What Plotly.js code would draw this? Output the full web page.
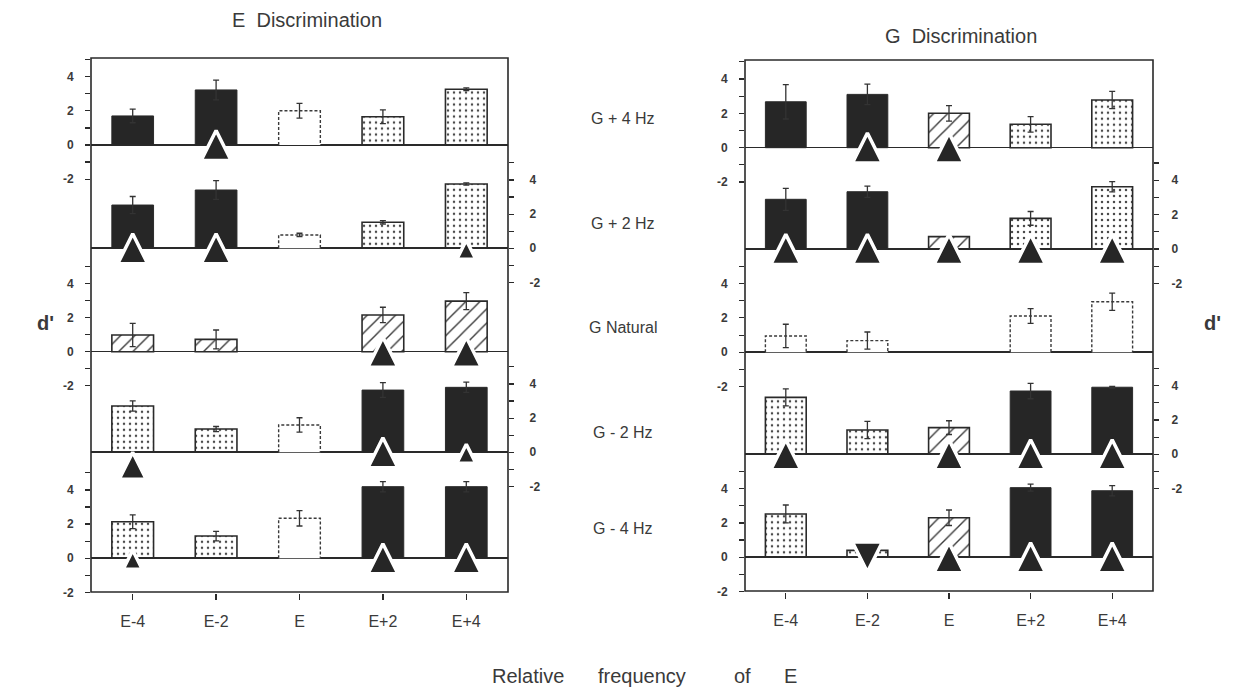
<!DOCTYPE html>
<html>
<head>
<meta charset="utf-8">
<script src="https://cdn.plot.ly/plotly-3.0.1.min.js"></script>
<style>html,body{margin:0;padding:0;background:#fff}#chart{width:1260px;height:687px}</style>
</head>
<body>
<div id="chart"></div>
<script>
// ---------------- data ----------------
const CATEGORIES = ['E-4', 'E-2', 'E', 'E+2', 'E+4'];
const ROW_LABELS = ['G + 4 Hz', 'G + 2 Hz', 'G Natural', 'G - 2 Hz', 'G - 4 Hz'];
const Y_TICK_VALUES = [-2, -1, 0, 1, 2, 3, 4, 5];
const Y_TICK_TEXT = ['-2', '', '0', '', '2', '', '4', ''];

// Fill codes: S solid, D dotted, H hatched, O open dashed outline
// Significance codes: B large up triangle, b small up triangle, L large low up triangle, V down triangle
// ---- E Discrimination ----
const E_G4_VALUES = [1.70, 3.22, 2.00, 1.65, 3.26];
const E_G4_ERRORS = [0.40, 0.58, 0.43, 0.40, 0.08];
const E_G4_FILLS = ['S', 'S', 'O', 'D', 'D'];
const E_G4_SIG = ['', 'B', '', '', ''];

const E_G2_VALUES = [2.53, 3.41, 0.78, 1.52, 3.76];
const E_G2_ERRORS = [0.50, 0.55, 0.10, 0.10, 0.07];
const E_G2_FILLS = ['S', 'S', 'O', 'D', 'D'];
const E_G2_SIG = ['B', 'B', '', '', 'b'];

const E_GN_VALUES = [0.98, 0.72, null, 2.15, 2.96];
const E_GN_ERRORS = [0.68, 0.55, null, 0.45, 0.50];
const E_GN_FILLS = ['H', 'H', '', 'H', 'H'];
const E_GN_SIG = ['', '', '', 'B', 'B'];

const E_GM2_VALUES = [2.71, 1.36, 1.60, 3.64, 3.80];
const E_GM2_ERRORS = [0.30, 0.15, 0.42, 0.43, 0.30];
const E_GM2_FILLS = ['D', 'D', 'O', 'S', 'S'];
const E_GM2_SIG = ['L', '', '', 'B', 'b'];

const E_GM4_VALUES = [2.14, 1.30, 2.34, 4.19, 4.19];
const E_GM4_ERRORS = [0.40, 0.28, 0.45, 0.30, 0.30];
const E_GM4_FILLS = ['D', 'D', 'O', 'S', 'S'];
const E_GM4_SIG = ['b', '', '', 'B', 'B'];

// ---- G Discrimination ----
const G_G4_VALUES = [2.67, 3.10, 2.00, 1.36, 2.77];
const G_G4_ERRORS = [1.00, 0.60, 0.45, 0.45, 0.50];
const G_G4_FILLS = ['S', 'S', 'H', 'D', 'D'];
const G_G4_SIG = ['', 'B', 'B', '', ''];

const G_G2_VALUES = [2.89, 3.33, 0.72, 1.78, 3.62];
const G_G2_ERRORS = [0.64, 0.33, null, 0.40, 0.30];
const G_G2_FILLS = ['S', 'S', 'H', 'D', 'D'];
const G_G2_SIG = ['B', 'B', 'B', 'B', 'B'];

const G_GN_VALUES = [0.95, 0.68, null, 2.11, 2.94];
const G_GN_ERRORS = [0.68, 0.50, null, 0.43, 0.50];
const G_GN_FILLS = ['O', 'O', '', 'O', 'O'];
const G_GN_SIG = ['', '', '', '', ''];

const G_GM2_VALUES = [3.31, 1.41, 1.55, 3.68, 3.90];
const G_GM2_ERRORS = [0.50, 0.50, 0.40, 0.45, 0.05];
const G_GM2_FILLS = ['D', 'D', 'H', 'S', 'S'];
const G_GM2_SIG = ['B', '', 'B', 'B', 'B'];

const G_GM4_VALUES = [2.52, 0.40, 2.30, 4.05, 3.87];
const G_GM4_ERRORS = [0.52, null, 0.45, 0.20, 0.30];
const G_GM4_FILLS = ['D', 'D', 'H', 'S', 'S'];
const G_GM4_SIG = ['', 'V', 'B', 'B', 'B'];

// ---------------- styling / layout helpers ----------------
const W = 1260, H = 687;
const INK = '#2a2a2a', TEXT = '#3a3a3a';
const px2x = p => p / W;
const px2y = p => 1 - p / H;

const PANELS = [
  { title: 'E  Discrimination', titleX: 307, titleY: 20,
    xLeft: 91, xRight: 508, frameTop: 58, frameBottom: 592,
    zeros: [145, 248.3, 351.7, 452.3, 558.3], unit: 17.1,
    standL: 9, standR: 13,
    rows: [
      [E_G4_VALUES, E_G4_ERRORS, E_G4_FILLS, E_G4_SIG],
      [E_G2_VALUES, E_G2_ERRORS, E_G2_FILLS, E_G2_SIG],
      [E_GN_VALUES, E_GN_ERRORS, E_GN_FILLS, E_GN_SIG],
      [E_GM2_VALUES, E_GM2_ERRORS, E_GM2_FILLS, E_GM2_SIG],
      [E_GM4_VALUES, E_GM4_ERRORS, E_GM4_FILLS, E_GM4_SIG]] },
  { title: 'G  Discrimination', titleX: 961, titleY: 36,
    xLeft: 745, xRight: 1153, frameTop: 60, frameBottom: 591,
    zeros: [147.7, 249, 352.3, 454.3, 557.3], unit: 17.2,
    standL: 9, standR: 10,
    rows: [
      [G_G4_VALUES, G_G4_ERRORS, G_G4_FILLS, G_G4_SIG],
      [G_G2_VALUES, G_G2_ERRORS, G_G2_FILLS, G_G2_SIG],
      [G_GN_VALUES, G_GN_ERRORS, G_GN_FILLS, G_GN_SIG],
      [G_GM2_VALUES, G_GM2_ERRORS, G_GM2_FILLS, G_GM2_SIG],
      [G_GM4_VALUES, G_GM4_ERRORS, G_GM4_FILLS, G_GM4_SIG]] }
];

const FILL_STYLE = {
  S: { color: '#262626', shape: '', line: 1, size: 8, solidity: 0.3 },
  D: { color: '#4a4a4a', shape: '.', line: 1.6, size: 6, solidity: 0.14 },
  H: { color: '#3a3a3a', shape: '/', line: 1.6, size: 10, solidity: 0.14 },
  O: { color: 'white', shape: '', line: 0, size: 8, solidity: 0.3 },
  '': { color: 'white', shape: '', line: 0, size: 8, solidity: 0.3 }
};
const SIG_STYLE = {
  B: { symbol: 'arrow-up', apex: 0.85, size: 30 },
  b: { symbol: 'arrow-up', apex: 0.47, size: 19 },
  L: { symbol: 'arrow-up', apex: 0.0, size: 27 },
  V: { symbol: 'arrow-down', apex: -0.85, size: 30 }
};
const BAR_HALF = 0.25;

const traces = [];
const layout = {
  width: W, height: H,
  margin: { l: 0, r: 0, t: 0, b: 0 },
  paper_bgcolor: 'white', plot_bgcolor: 'white',
  showlegend: false, barmode: 'overlay',
  font: { family: 'Liberation Sans, Arial, sans-serif', color: TEXT },
  shapes: [], annotations: []
};

PANELS.forEach((panel, p) => {
  const xName = p === 0 ? 'x' : 'x2';
  const xKey = p === 0 ? 'xaxis' : 'xaxis2';
  const firstY = p * 5 + 1;
  layout[xKey] = {
    domain: [px2x(panel.xLeft), px2x(panel.xRight)],
    anchor: 'y' + (firstY + 4),
    range: [-0.5, 4.5],
    tickvals: CATEGORIES.map((c, i) => i), ticktext: CATEGORIES,
    ticks: 'outside', ticklen: 6, tickwidth: 1.3, tickcolor: INK,
    ticklabelstandoff: 8,
    showline: false, showgrid: false, zeroline: false,
    tickfont: { size: 16, color: TEXT }
  };
  panel.rows.forEach((row, r) => {
    const [vals, errs, fills, sigs] = row;
    const yNum = firstY + r;
    const yName = yNum === 1 ? 'y' : 'y' + yNum;
    const yKey = yNum === 1 ? 'yaxis' : 'yaxis' + yNum;
    const zero = panel.zeros[r], u = panel.unit;
    const onLeft = r % 2 === 0;
    layout[yKey] = {
      domain: [px2y(zero + 2 * u), px2y(zero - 5 * u)],
      anchor: xName, side: onLeft ? 'left' : 'right',
      range: [-2.001, 5.001],
      tickvals: Y_TICK_VALUES, ticktext: Y_TICK_TEXT,
      ticks: 'outside', ticklen: 5, tickwidth: 1.2, tickcolor: INK,
      ticklabelstandoff: onLeft ? panel.standL : panel.standR,
      tickfont: { size: 12, color: TEXT, weight: 'bold' },
      showline: false, showgrid: false,
      zeroline: true, zerolinecolor: INK, zerolinewidth: 1.6
    };
    // bars
    traces.push({
      type: 'bar', x: CATEGORIES.map((c, i) => i), y: vals,
      xaxis: xName, yaxis: yName, width: 0.5, hoverinfo: 'skip',
      marker: {
        color: fills.map(f => FILL_STYLE[f].color),
        line: { color: INK, width: fills.map(f => FILL_STYLE[f].line) },
        pattern: {
          shape: fills.map(f => FILL_STYLE[f].shape),
          bgcolor: 'white',
          size: fills.map(f => FILL_STYLE[f].size),
          solidity: fills.map(f => FILL_STYLE[f].solidity)
        }
      },
      error_y: { type: 'data', array: errs, visible: true, color: '#333', thickness: 1.3, width: 3 }
    });
    // dashed outlines for open bars
    const ox = [], oy = [];
    fills.forEach((f, i) => {
      if (f === 'O' && vals[i] != null) {
        ox.push(i - BAR_HALF, i - BAR_HALF, i + BAR_HALF, i + BAR_HALF, null);
        oy.push(0, vals[i], vals[i], 0, null);
      }
    });
    if (ox.length) {
      traces.push({
        type: 'scatter', mode: 'lines', x: ox, y: oy, xaxis: xName, yaxis: yName,
        hoverinfo: 'skip', connectgaps: false,
        line: { color: '#3a3a3a', width: 1.4, dash: '3px,2px' }
      });
    }
    // significance triangles
    const tx = [], ty = [], ts = [], tz = [];
    sigs.forEach((s, i) => {
      if (s && SIG_STYLE[s]) {
        tx.push(i); ty.push(SIG_STYLE[s].apex);
        ts.push(SIG_STYLE[s].symbol); tz.push(SIG_STYLE[s].size);
      }
    });
    if (tx.length) {
      traces.push({
        type: 'scatter', mode: 'markers', x: tx, y: ty, xaxis: xName, yaxis: yName,
        hoverinfo: 'skip',
        marker: { symbol: ts, size: tz, opacity: 1, color: '#262626',
                  line: { color: 'white', width: 3.5 } }
      });
    }
  });
  // frame
  layout.shapes.push({
    type: 'rect', xref: xName + ' domain', yref: 'paper',
    x0: 0, x1: 1, y0: px2y(panel.frameBottom), y1: px2y(panel.frameTop),
    line: { color: INK, width: 1.6 }, fillcolor: 'rgba(0,0,0,0)', layer: 'above'
  });
  // title
  layout.annotations.push({
    text: panel.title, xref: 'paper', yref: 'paper',
    x: px2x(panel.titleX), y: px2y(panel.titleY), xanchor: 'center', yanchor: 'middle',
    showarrow: false, font: { size: 20, color: TEXT }
  });
});

// row labels between panels
const ROW_LABEL_Y = [118, 223, 328, 433, 528];
ROW_LABELS.forEach((t, i) => {
  layout.annotations.push({
    text: t, xref: 'paper', yref: 'paper', x: px2x(623), y: px2y(ROW_LABEL_Y[i]),
    xanchor: 'center', yanchor: 'middle', showarrow: false,
    font: { size: 16, color: TEXT }
  });
});
// d' labels
[[45, 323], [1212, 323]].forEach(([xx, yy]) => {
  layout.annotations.push({
    text: "d'", xref: 'paper', yref: 'paper', x: px2x(xx), y: px2y(yy),
    xanchor: 'center', yanchor: 'middle', showarrow: false,
    font: { size: 20, color: TEXT, weight: 'bold' }
  });
});
// bottom axis title (widely spaced words)
const X_TITLE_WORDS = ['Relative', 'frequency', 'of', 'E'];
const X_TITLE_POS = [528, 642, 742, 790];
X_TITLE_WORDS.forEach((w, i) => {
  layout.annotations.push({
    text: w, xref: 'paper', yref: 'paper', x: px2x(X_TITLE_POS[i]), y: px2y(676),
    xanchor: 'center', yanchor: 'middle', showarrow: false,
    font: { size: 20, color: TEXT }
  });
});

Plotly.newPlot('chart', traces, layout, { staticPlot: true, displayModeBar: false });
</script>
</body>
</html>
